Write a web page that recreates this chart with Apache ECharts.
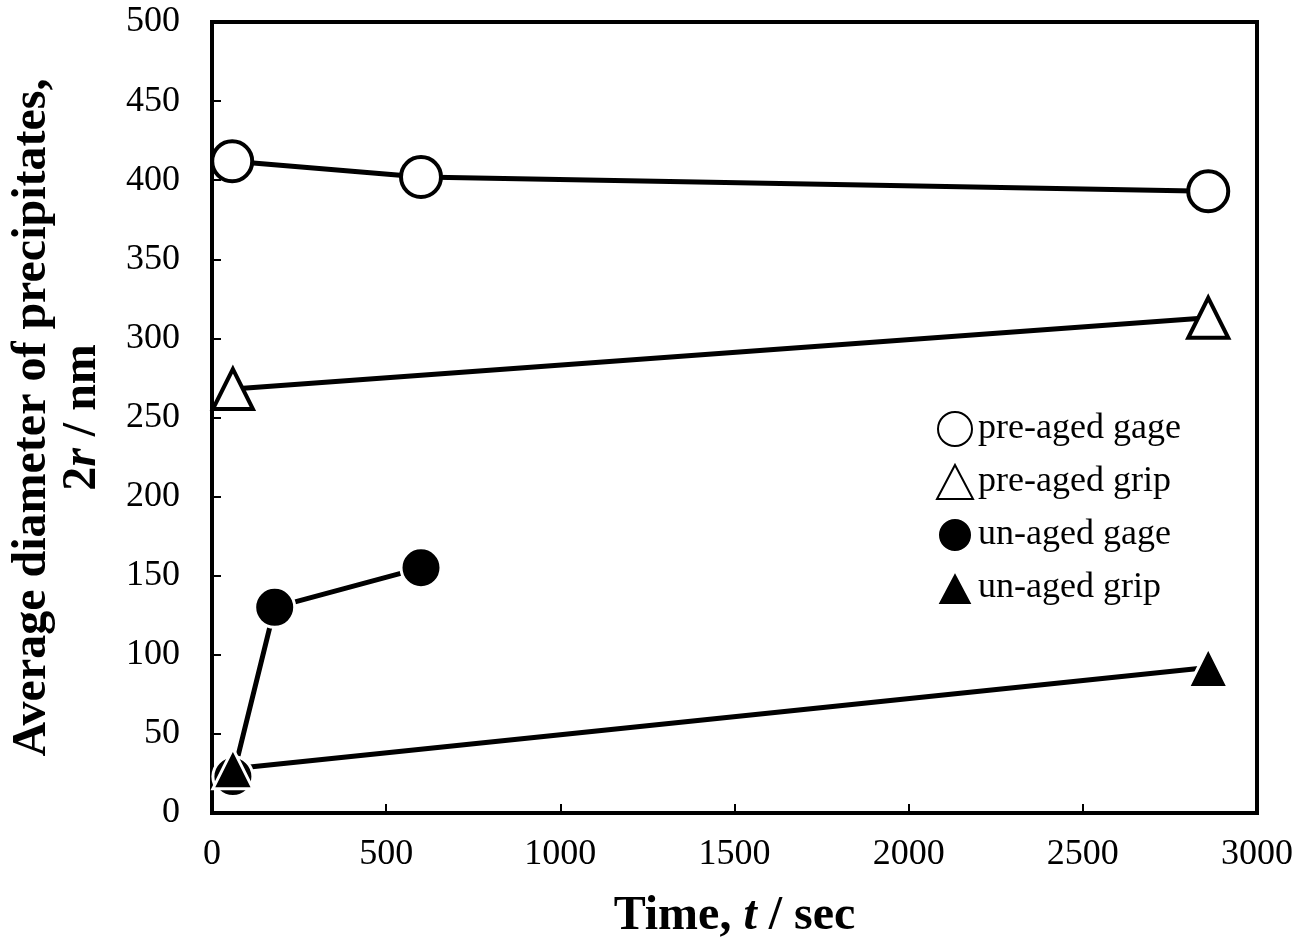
<!DOCTYPE html>
<html>
<head>
<meta charset="utf-8">
<script src="https://cdn.jsdelivr.net/npm/echarts@6/dist/echarts.min.js"></script>
<style>
  html, body { margin: 0; padding: 0; background: #fff; }
  #chart { width: 1312px; height: 940px; }
</style>
</head>
<body>
<div id="chart"></div>
<script>
// data (time in sec, diameter in nm)
const seriesNames = ['pre-aged gage', 'pre-aged grip', 'un-aged gage', 'un-aged grip'];
const preAgedGage = [[58, 412], [600, 402], [2860, 393]];
const preAgedGrip = [[60, 268], [2860, 313]];
const unAgedGage = [[60, 23], [180, 130], [600, 155]];
const unAgedGrip = [[60, 28], [2860, 92]];

const serif = 'Liberation Serif, Times New Roman, serif';

const openStyle = { color: '#fff', borderColor: '#000', borderWidth: 4, opacity: 1 };
const fillStyle = { color: '#000', borderColor: '#fff', borderWidth: 3, opacity: 1 };

// line only; the markers are drawn by separate scatter layers above all lines
const lineSeries = (name, data, style) => ({
  name,
  type: 'line',
  data,
  symbol: 'none',
  lineStyle: { color: '#000', width: 5 },
  itemStyle: style,
  emphasis: { disabled: true },
  z: 2,
});

const markSeries = (data, symbol, style, z) => ({
  type: 'scatter',
  data,
  symbol,
  symbolSize: 40,
  itemStyle: style,
  emphasis: { disabled: true },
  z,
});

const myChart = echarts.init(document.getElementById('chart'));

myChart.setOption({
  animation: false,
  grid: {
    left: 212, right: 55, top: 22, bottom: 127,
    containLabel: false,
    outerBoundsMode: 'none',
    show: true, borderColor: '#000', borderWidth: 4,
  },
  legend: {
    orient: 'vertical',
    left: 931,
    top: 406,
    itemWidth: 36,
    itemHeight: 34,
    itemGap: 17,
    textStyle: { fontFamily: serif, fontSize: 36, color: '#000' },
    data: [
      { name: seriesNames[0], icon: 'circle' },
      { name: seriesNames[1], icon: 'triangle' },
      { name: seriesNames[2], icon: 'circle' },
      { name: seriesNames[3], icon: 'triangle' },
    ],
  },
  xAxis: {
    type: 'value',
    min: 0, max: 3000, interval: 500,
    splitLine: { show: false },
    axisLine: { lineStyle: { color: '#000', width: 4 } },
    axisTick: { inside: true, length: 9, lineStyle: { color: '#000', width: 2 } },
    axisLabel: {
      fontFamily: serif, fontSize: 36, color: '#000', margin: 24,
      formatter: (v) => String(v),
    },
    name: '{b|Time, }{bi|t}{b| / sec}',
    nameLocation: 'middle',
    nameGap: 80,
    nameTextStyle: {
      rich: {
        b: { fontFamily: serif, fontSize: 48, fontWeight: 'bold', color: '#000' },
        bi: { fontFamily: serif, fontSize: 48, fontWeight: 'bold', fontStyle: 'italic', color: '#000' },
      },
    },
  },
  yAxis: {
    type: 'value',
    min: 0, max: 500, interval: 50,
    splitLine: { show: false },
    axisLine: { lineStyle: { color: '#000', width: 4 } },
    axisTick: { inside: true, length: 9, lineStyle: { color: '#000', width: 2 } },
    axisLabel: { fontFamily: serif, fontSize: 36, color: '#000', margin: 32 },
    name: '{b|Average diameter of precipitates,}\n{b|2}{bi|r}{b| / nm}',
    nameLocation: 'middle',
    nameRotate: 90,
    nameGap: 104,
    nameTextStyle: {
      align: 'center',
      rich: {
        b: { fontFamily: serif, fontSize: 48, fontWeight: 'bold', color: '#000', lineHeight: 50 },
        bi: { fontFamily: serif, fontSize: 48, fontWeight: 'bold', fontStyle: 'italic', color: '#000', lineHeight: 50 },
      },
    },
  },
  series: [
    lineSeries(seriesNames[0], preAgedGage, openStyle),
    lineSeries(seriesNames[1], preAgedGrip, openStyle),
    lineSeries(seriesNames[2], unAgedGage, fillStyle),
    lineSeries(seriesNames[3], unAgedGrip, fillStyle),
    markSeries(preAgedGage, 'circle', openStyle, 4),
    markSeries(preAgedGrip, 'triangle', openStyle, 4),
    markSeries(unAgedGage, 'circle', fillStyle, 5),
    markSeries(unAgedGrip, 'triangle', fillStyle, 6),
  ],
});
</script>
</body>
</html>
